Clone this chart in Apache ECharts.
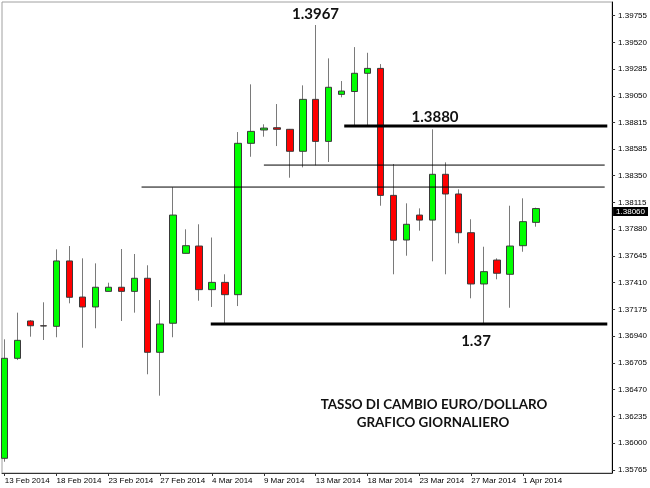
<!DOCTYPE html>
<html><head><meta charset="utf-8">
<script src="https://cdn.jsdelivr.net/npm/echarts@6/dist/echarts.min.js"></script>
<style>html,body{margin:0;padding:0;background:#fff}#c{width:650px;height:488px}</style>
</head><body><div id="c"></div>
<script>
const dates = ['13 Feb 2014','14 Feb 2014','16 Feb 2014','17 Feb 2014','18 Feb 2014','19 Feb 2014','20 Feb 2014','21 Feb 2014','23 Feb 2014','24 Feb 2014','25 Feb 2014','26 Feb 2014','27 Feb 2014','28 Feb 2014','2 Mar 2014','3 Mar 2014','4 Mar 2014','5 Mar 2014','6 Mar 2014','7 Mar 2014','9 Mar 2014','10 Mar 2014','11 Mar 2014','12 Mar 2014','13 Mar 2014','14 Mar 2014','16 Mar 2014','17 Mar 2014','18 Mar 2014','19 Mar 2014','20 Mar 2014','21 Mar 2014','23 Mar 2014','24 Mar 2014','25 Mar 2014','26 Mar 2014','27 Mar 2014','28 Mar 2014','30 Mar 2014','31 Mar 2014','1 Apr 2014','2 Apr 2014'];
const opens  = [1.35867,1.36745,1.37073,1.37031,1.37026,1.37600,1.37283,1.37196,1.37333,1.37369,1.37333,1.37448,1.36798,1.37053,1.37667,1.37731,1.37348,1.37412,1.37304,1.38633,1.38750,1.38770,1.38756,1.38563,1.39019,1.38650,1.39063,1.39088,1.39248,1.39291,1.38176,1.37784,1.38003,1.37959,1.38361,1.38188,1.37848,1.37398,1.37608,1.37483,1.37734,1.37939];
const closes = [1.36745,1.36903,1.37031,1.37029,1.37600,1.37281,1.37196,1.37369,1.37369,1.37333,1.37448,1.36798,1.37046,1.38003,1.37734,1.37348,1.37412,1.37304,1.38633,1.38738,1.38767,1.38756,1.38563,1.39019,1.38650,1.39125,1.39092,1.39248,1.39291,1.38176,1.37782,1.37922,1.37959,1.38361,1.38188,1.37848,1.37398,1.37506,1.37492,1.37731,1.37945,1.38060];
const lows   = [1.35837,1.36730,1.36935,1.36906,1.36930,1.37228,1.36838,1.37009,1.37333,1.37073,1.37146,1.36605,1.36417,1.36930,1.37667,1.37251,1.37196,1.37053,1.37204,1.38515,1.38691,1.38609,1.38331,1.38422,1.38440,1.38469,1.39037,1.38791,1.38791,1.38085,1.37483,1.37646,1.37866,1.37597,1.37483,1.37755,1.37272,1.37038,1.37439,1.37189,1.37681,1.37901];
const highs  = [1.36912,1.37146,1.37081,1.37237,1.37702,1.37731,1.37623,1.37579,1.37409,1.37705,1.37661,1.37562,1.37257,1.38247,1.37878,1.37922,1.37806,1.37483,1.38732,1.39151,1.38800,1.38978,1.38759,1.39142,1.39672,1.39379,1.39180,1.39478,1.39428,1.39329,1.38451,1.38106,1.38062,1.38756,1.38466,1.38229,1.37966,1.37725,1.37623,1.38085,1.38150,1.38068];
const yTicks = [1.35765,1.36000,1.36235,1.36470,1.36705,1.36940,1.37175,1.37410,1.37645,1.37880,1.38115,1.38350,1.38585,1.38815,1.39050,1.39285,1.39520,1.39755];
const xTickIdx = [0,4,8,12,16,20,24,28,32,36,40];
const lastPrice = 1.38060;
// horizontal levels: value, start bar position, end bar position
const levelValues = [1.38249,1.38442,1.38785,1.37046];
const levelStart  = [10.56,20.0,26.2,15.9];
const levelEnd    = [46.3,46.3,46.5,46.5];
const levelThick  = [false,false,true,true];

const wickData = dates.map((d,i)=>[i,opens[i],closes[i],lows[i],highs[i]]);
const bodyData = dates.map((d,i)=>[i,opens[i],closes[i],Math.min(opens[i],closes[i]),Math.max(opens[i],closes[i])]);

const levelSeries = levelValues.map((v,k)=>({
  type:'line', silent:true, symbol:'none', animation:false,
  data:[[levelStart[k],v],[levelEnd[k],v]],
  lineStyle:{color:'#000',width:levelThick[k]?3:1}, z:5
}));

const chart = echarts.init(document.getElementById('c'), null, {renderer:'canvas'});
chart.setOption({
  animation:false,
  backgroundColor:'#fff',
  grid:{left:2,right:36,top:2,bottom:15,show:true,borderColor:'#a0a0a0',borderWidth:1,backgroundColor:'#fff'},
  xAxis:{type:'value',min:-0.21,max:46.87,
    axisLine:{show:true,onZero:false,lineStyle:{color:'#333',width:1}},
    axisTick:{show:true,customValues:xTickIdx,length:3,lineStyle:{color:'#333'}},
    axisLabel:{customValues:xTickIdx,formatter:v=>dates[Math.round(v)],align:'left',margin:4,
      fontSize:8,fontFamily:'Liberation Sans',color:'#000'},
    splitLine:{show:false}},
  yAxis:{type:'value',position:'right',min:1.35738,max:1.39874,
    axisLine:{show:true,onZero:false,lineStyle:{color:'#000',width:1}},
    axisTick:{show:true,customValues:yTicks,length:3,lineStyle:{color:'#333'}},
    axisLabel:{customValues:yTicks,formatter:v=>v.toFixed(5),margin:6,fontSize:8,fontFamily:'Liberation Sans',color:'#000'},
    splitLine:{show:false}},
  series:[
    {type:'candlestick',data:wickData,encode:{x:0,y:[1,2,3,4]},barWidth:1,silent:true,
      itemStyle:{color:'#7a7a7a',color0:'#7a7a7a',borderColor:'#7a7a7a',borderColor0:'#7a7a7a',borderWidth:1},z:2},
    {type:'candlestick',data:bodyData,encode:{x:0,y:[1,2,3,4]},barWidth:7,silent:true,clip:false,
      itemStyle:{color:'#00ff00',color0:'#ff0000',borderColor:'#3a3a3a',borderColor0:'#3a3a3a',borderWidth:1},z:3},
    {type:'line',data:[],silent:true,z:10,
      markLine:{silent:true,symbol:'none',animation:false,data:[{yAxis:lastPrice}],
        lineStyle:{color:'rgba(0,0,0,0)',width:0},
        label:{show:true,position:'end',distance:1,offset:[0,-4],formatter:()=>lastPrice.toFixed(5),backgroundColor:'#000',color:'#fff',
          fontSize:8,fontFamily:'Liberation Sans',padding:[1,3,0,3]}}}
  ].concat(levelSeries),
  graphic:[
    {type:'text',x:315.5,y:14,style:{text:'1.3967',font:'bold 15px Lato',fill:'#111',align:'center',verticalAlign:'middle'}},
    {type:'text',x:435,y:117,style:{text:'1.3880',font:'bold 15px Lato',fill:'#111',align:'center',verticalAlign:'middle'}},
    {type:'text',x:476,y:341,style:{text:'1.37',font:'bold 15px Lato',fill:'#111',align:'center',verticalAlign:'middle'}},
    {type:'text',x:434,y:405,style:{text:'TASSO DI CAMBIO EURO/DOLLARO',font:'bold 13.4px Lato',fill:'#111',align:'center',verticalAlign:'middle'}},
    {type:'text',x:433,y:423,style:{text:'GRAFICO GIORNALIERO',font:'bold 13.4px Lato',fill:'#111',align:'center',verticalAlign:'middle'}}
  ]
});
</script></body></html>
